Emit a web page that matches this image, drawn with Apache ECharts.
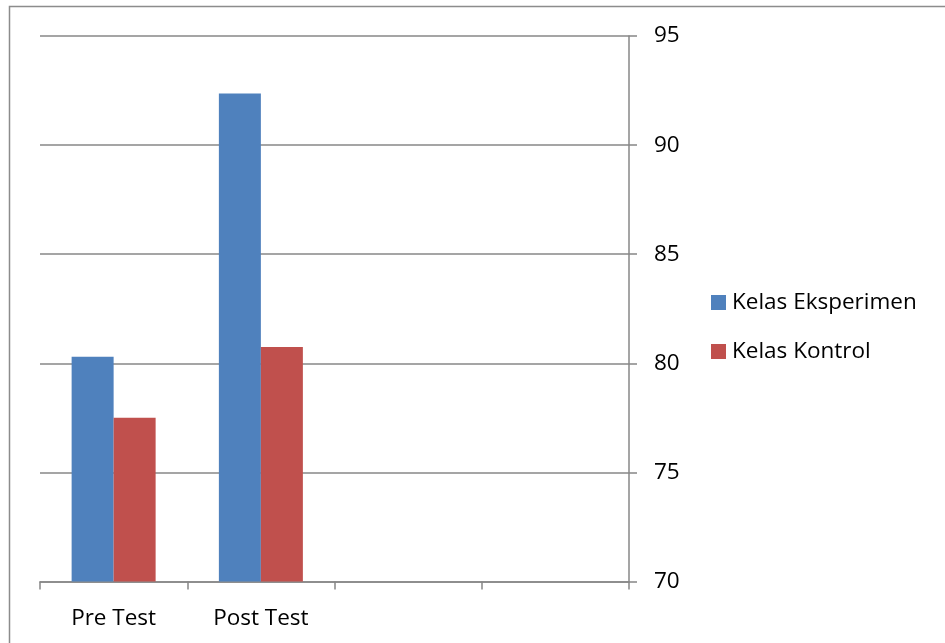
<!DOCTYPE html>
<html>
<head>
<meta charset="utf-8">
<script src="https://cdn.jsdelivr.net/npm/echarts@6/dist/echarts.min.js"></script>
<style>
  html, body { margin: 0; padding: 0; background: #fff; }
  #chart { width: 945px; height: 643px; }
</style>
</head>
<body>
<div id="chart"></div>
<script>
// Test phases (two empty slots keep the category spacing)
const categories = ['Pre Test', 'Post Test', '', ''];
// Mean scores per class
const eksperimen = [80.3, 92.37, null, null];
const kontrol = [77.5, 80.75, null, null];
const seriesNames = ['Kelas Eksperimen', 'Kelas Kontrol'];

const FONT = '"Open Sans", "Noto Sans", sans-serif';
const GRID_COLOR = '#878787';

const chart = echarts.init(document.getElementById('chart'), null, { renderer: 'canvas' });

chart.setOption({
  animation: false,
  backgroundColor: '#ffffff',
  textStyle: { fontFamily: FONT },
  grid: { left: 40, right: 316, top: 36, bottom: 61.5, containLabel: false },
  graphic: [{
    type: 'rect',
    shape: { x: 9.5, y: 6.5, width: 1000, height: 1000 },
    style: { fill: 'none', stroke: '#8c8c8c', lineWidth: 1.5 },
    silent: true
  }],
  legend: {
    orient: 'vertical',
    left: 706,
    top: 286,
    itemWidth: 15,
    itemHeight: 15,
    itemGap: 26,
    icon: 'rect',
    data: seriesNames,
    textStyle: { fontFamily: FONT, fontSize: 22.5, color: '#000', padding: [0, 0, 0, 1] }
  },
  xAxis: {
    type: 'category',
    data: categories,
    boundaryGap: true,
    axisLine: { show: true, lineStyle: { color: GRID_COLOR, width: 1.5 } },
    axisTick: { show: true, length: 8, alignWithLabel: false, lineStyle: { color: GRID_COLOR, width: 1.5 } },
    axisLabel: { color: '#000', fontFamily: FONT, fontSize: 22.5, margin: 26 },
    splitLine: { show: false }
  },
  yAxis: {
    type: 'value',
    position: 'right',
    min: 70,
    max: 95,
    interval: 5,
    axisLine: { show: true, lineStyle: { color: GRID_COLOR, width: 1.5 } },
    axisTick: { show: true, length: 8, inside: false, lineStyle: { color: GRID_COLOR, width: 1.5 } },
    axisLabel: { color: '#000', fontFamily: FONT, fontSize: 22.5, margin: 25 },
    splitLine: { show: true, lineStyle: { color: GRID_COLOR, width: 1.5 } }
  },
  series: [
    {
      name: seriesNames[0],
      type: 'bar',
      data: eksperimen,
      barWidth: 42,
      barGap: '0%',
      itemStyle: { color: '#4f81bd' }
    },
    {
      name: seriesNames[1],
      type: 'bar',
      data: kontrol,
      barWidth: 42,
      barGap: '0%',
      itemStyle: { color: '#c0504d' }
    }
  ]
});
</script>
</body>
</html>
